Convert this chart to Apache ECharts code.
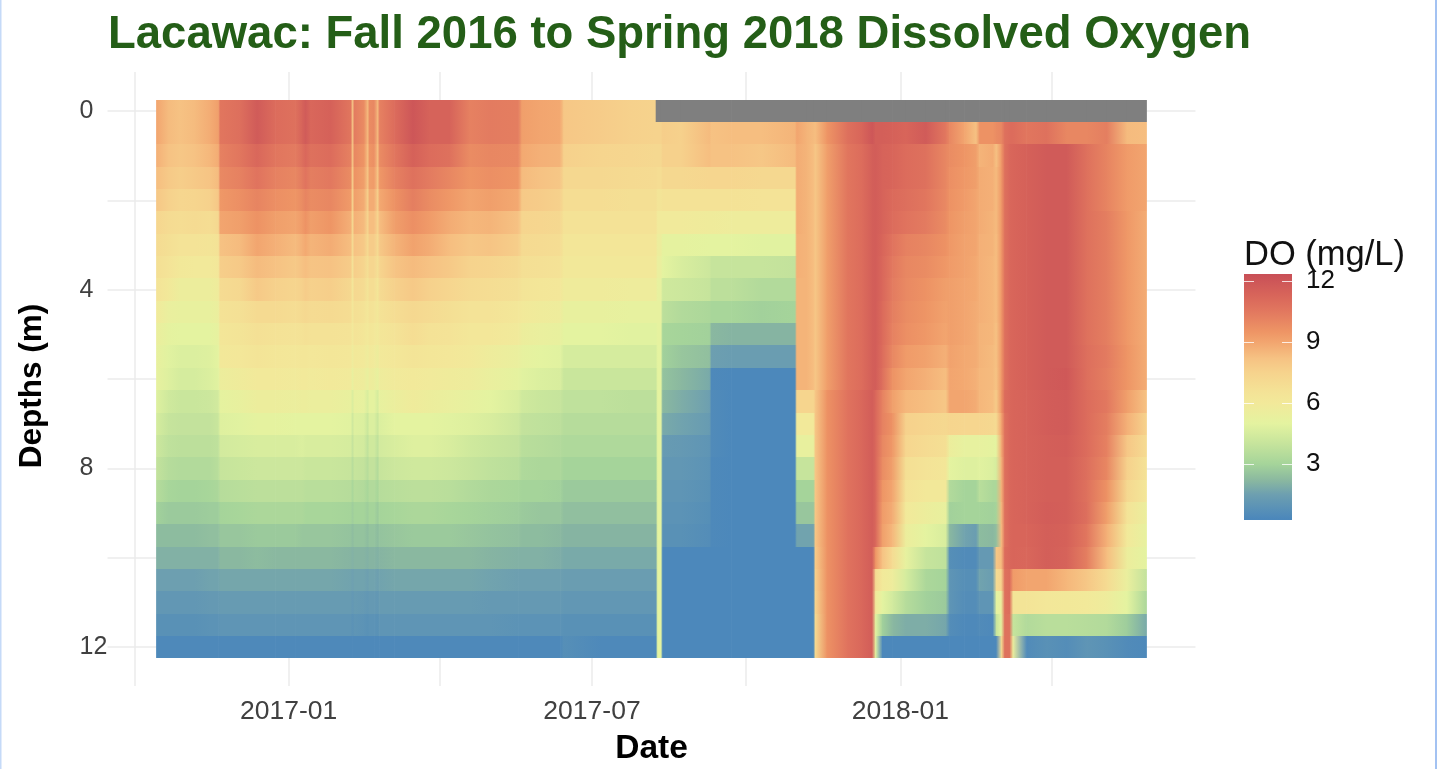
<!DOCTYPE html>
<html><head><meta charset="utf-8">
<script src="https://cdn.jsdelivr.net/npm/echarts@6/dist/echarts.min.js"></script>
<style>html,body{margin:0;padding:0;background:#fff}#c{width:1440px;height:769px}</style>
</head><body><div id="c"></div>
<script>
const dates = ['2016-10-14','2016-10-21','2016-10-28','2016-11-06','2016-11-15','2016-11-20',
'2016-11-21','2016-12-03','2016-12-13','2016-12-24','2017-01-05','2017-01-09','2017-01-11','2017-01-14','2017-01-26','2017-02-07',
'2017-02-08','2017-02-09','2017-02-15','2017-02-17','2017-02-18','2017-02-21','2017-02-23','2017-02-24','2017-03-05','2017-03-16',
'2017-03-26','2017-04-07','2017-04-19','2017-05-01','2017-05-18','2017-05-20','2017-05-31','2017-06-12','2017-06-14','2017-07-06','2017-07-24','2017-08-08',
'2017-08-09','2017-08-11','2017-08-12','2017-08-23','2017-09-09','2017-09-10','2017-09-22','2017-10-10','2017-10-30','2017-10-31',
'2017-11-06','2017-11-10','2017-11-11','2017-11-18','2017-11-30','2017-12-09','2017-12-15','2017-12-17',
'2017-12-21','2017-12-27','2018-01-04','2018-01-16','2018-01-28','2018-01-30','2018-02-08','2018-02-15','2018-02-17','2018-02-25','2018-02-27','2018-03-02','2018-03-04','2018-03-07','2018-03-09',
'2018-03-17','2018-03-29','2018-04-10','2018-04-22','2018-05-04','2018-05-16','2018-05-28'];
const n = null;
const d00 = [9.0,8.4,8.2,8.4,8.8,9.2,10.6,10.9,11.8,11.0,10.8,11.4,11.8,11.2,11.5,10.6,8.0,10.4,9.8,8.4,9.8,10,8.4,10.2,11,12.0,11.4,11.4,10.2,10.4,10.3,9.2,9.0,8.9,8.0,7.8,7.6,7.5, n,n,n,n,n,n,n,n,n,n, n,n,n,n,n,n,n,n, n,n,n,n,n,n,n,n,n,n,n,n,n,n,n, n,n,n,n,n,n,n];
const d05 = [9.0,8.4,8.2,8.4,8.8,9.2,10.6,10.9,11.8,11.0,10.8,11.4,11.8,11.2,11.5,10.6,8.0,10.4,9.8,8.4,9.8,10,8.4,10.2,11,12.0,11.4,11.4,10.2,10.4,10.3,9.2,9.0,8.9,8.0,7.8,7.6,7.5, 7.5,7.5,7.7,7.6,8.4,8.2,8.3,8.3,8.6,9.0, 8.6,8.4,8.3,9.5,10.8,11.3,12,11.6, 11.6,11.5,11.3,11.8,10.5,10,9,8.2,9.6,9.6,9.8,10,10.8,11,11, 10.6,10.8,10,10,10.3,8.4,8.3];
const d10 = [8.7,8.2,8.0,8.2,8.5,8.8,10.2,10.6,11.2,10.6,10.4,10.9,11.2,10.8,11,10.2,7.9,10,9.5,8.2,9.5,9.7,8.2,9.8,10.6,11.5,11.0,10.8,9.8,10.0,9.9,8.9,8.7,8.6,7.6,7.4,7.3,7.2, 7.2,7.2,7.6,7.6,8.3,8.2,8.2,8.0,8.4,8.8, 8.6,8.3,8.0,9.2,10.6,11.0,11.6,11.7, 11.4,11.3,11,10.8,10,9.8,9.5,9.2,8.6,8.8,8.2,9.4,10.8,11.2,11.3, 11.5,11.8,11.8,10.8,10.1,9.3,9];
const d15 = [8.3,7.9,7.7,7.9,8.1,8.4,9.9,10.2,10.7,10.2,10.0,10.4,10.7,10.3,10.5,9.8,7.6,9.6,9.2,8.0,9.2,9.3,8.0,9.4,10.2,10.8,10.4,10.0,9.5,9.7,9.5,8.4,8.2,8.0,7.2,7.2,7.1,7.0, 6.9,6.9,7.2,7.2,7.3,7.3,7.3,7.2,7.2,8.8, 8.6,8.3,8.0,9.2,10.6,11.0,11.6,11.7, 11.4,11.3,11,10.8,10.0,9.7,9.4,9.2,8.8,8.7,8.4,9.4,10.8,11.2,11.3, 11.5,11.8,11.8,10.8,10.1,9.3,9];
const d20 = [8.0,7.6,7.3,7.4,7.6,8.0,9.4,9.7,10.1,9.7,9.5,9.8,10.1,9.8,10,9.3,7.3,9.2,8.8,7.6,8.8,8.8,7.6,8.9,9.6,10.3,9.8,9.4,9.0,9.2,8.9,7.9,7.8,7.6,6.9,6.9,6.8,6.8, 6.4,6.4,6.6,6.6,6.6,6.6,6.6,6.5,6.5,8.8, 8.6,8.3,8.0,9.2,10.6,11.0,11.6,11.7, 11.4,11.1,10.9,10.6,9.9,9.6,9.3,9.0,8.8,8.7,8.4,9.4,10.8,11.2,11.3, 11.5,11.8,11.8,10.8,10.1,9.3,9];
const d25 = [7.3,7.0,6.9,7.0,6.9,7.2,9.0,9.2,9.6,9.2,9.0,9.3,9.6,9.2,9.5,8.7,7.0,8.7,8.4,7.3,8.3,8.3,7.3,8.3,9.2,9.7,9.3,8.8,8.5,8.6,8.2,7.4,7.3,7.2,6.6,6.6,6.6,6.6, 5.9,5.9,5.9,5.9,5.8,5.8,5.7,5.7,5.7,8.8, 8.6,8.3,8.0,9.2,10.6,11.0,11.6,11.7, 11.4,11,10.7,10.4,9.8,9.5,9.2,9.0,8.8,8.6,8.4,9.4,10.8,11.2,11.3, 11.5,11.8,11.8,10.8,10.3,9.4,8.8];
const d30 = [7.0,6.8,6.5,6.5,6.4,6.6,8.2,8.4,9.0,8.7,8.4,8.7,8.9,8.6,8.8,8.3,6.9,8.2,7.9,7.1,7.8,7.8,7.0,7.9,8.6,9.1,8.8,8.3,8.0,8.1,7.7,7.1,7,6.9,6.3,6.3,6.3,6.3, 5.6,5.6,5.1,5.1,5.0,5.0,5.0,4.9,4.9,8.7, 8.6,8.3,8.0,9.2,10.6,11.0,11.6,11.7, 11.3,10.7,10.2,10,9.6,9.4,9.1,9.0,8.7,8.6,8.3,9.4,10.8,11.2,11.3, 11.5,11.8,11.8,10.8,10.3,9.4,8.8];
const d35 = [6.8,6.5,6.1,6.0,6.0,6.2,7.7,7.9,8.4,8.2,7.9,8.2,8.3,8.1,8.2,7.8,6.5,7.7,7.4,6.8,7.3,7.3,6.7,7.4,8.1,8.4,8.2,7.9,7.5,7.4,7.1,6.8,6.7,6.6,6.1,6.1,6.1,6.1, 5.4,5.4,5.0,4.6,4.2,4.0,4.0,4.0,3.9,8.7, 8.6,8.3,8.0,9.2,10.6,11.0,11.6,11.7, 11.2,10.5,10,9.8,9.4,9.3,9.1,8.9,8.7,8.5,8.3,9.4,10.8,11.2,11.3, 11.5,11.8,11.8,10.8,10.3,9.4,8.8];
const d40 = [6.5,6.1,5.6,5.6,5.6,5.8,7.0,7.2,7.9,7.6,7.4,7.6,7.8,7.6,7.7,7.2,6.2,7.2,7.0,6.4,6.9,6.9,6.3,7.0,7.6,7.9,7.6,7.3,7.0,6.9,6.7,6.4,6.3,6.2,5.8,5.8,5.7,5.7, 5.2,5.2,4.3,4.2,4.0,3.7,3.7,3.4,3.4,8.6, 8.6,8.3,8.0,9.2,10.6,11.0,11.6,11.7, 11.2,10.4,9.9,9.6,9.2,9.2,9,8.9,8.7,8.5,8.3,9.4,10.8,11.2,11.3, 11.5,11.8,11.8,10.8,10.3,9.4,8.8];
const d45 = [5.9,5.4,5.3,5.3,5.3,5.5,6.6,6.7,7.1,7.1,6.9,7.1,7.2,7.0,7.1,6.9,6.2,6.8,6.6,6.2,6.6,6.5,6.1,6.6,6.9,7.2,7.0,6.8,6.5,6.5,6.2,6.0,5.8,5.7,5.3,5.3,5.2,5.2, 5.2,5.2,3.7,3.4,3.2,3.1,3.1,2.9,3.0,8.6, 8.6,8.3,8.0,9.2,10.6,11.0,11.6,11.7, 11.1,10.3,9.8,9.5,9.1,9.2,9,8.8,8.7,8.5,8.3,9.4,10.8,11.2,11.3, 11.5,11.8,11.8,10.8,10.3,9.4,8.8];
const d50 = [5.5,5.1,5.0,5.0,5.0,5.2,6.3,6.4,6.7,6.6,6.5,6.6,6.7,6.6,6.6,6.5,6.0,6.5,6.3,6.0,6.3,6.2,5.9,6.3,6.5,6.9,6.6,6.5,6.2,6.2,5.9,5.6,5.4,5.3,5.0,5.0,4.9,4.9, 5.1,5.1,3.1,3.0,2.9,2.2,2.1,2.1,2.1,8.6, 8.6,8.3,8.0,9.2,10.6,11.0,11.6,11.7, 11.1,10.2,9.7,9.4,9.0,9.2,9,8.8,8.6,8.5,8.2,9.4,10.8,11.2,11.3, 11.5,11.8,11.8,10.8,10.3,9.4,8.8];
const d55 = [5.3,4.9,4.7,4.7,4.8,5.0,6.1,6.2,6.4,6.3,6.2,6.3,6.3,6.2,6.3,6.2,5.7,6.1,6.0,5.7,6.0,5.9,5.6,6.0,6.2,6.4,6.3,6.2,6.0,5.7,5.4,5.2,5.0,4.9,4.5,4.5,4.5,4.5, 5.0,5.0,2.9,2.6,2.4,1.5,1.4,1.4,1.4,8.6, 8.6,8.3,8.0,9.2,10.6,11.0,11.6,11.7, 11,10,9.3,9.1,8.7,9.1,8.9,8.8,8.6,8.4,8.2,9.4,10.8,11.2,11.3, 11.5,11.8,11.8,10.9,10.4,9.5,8.8];
const d60 = [5.2,4.8,4.5,4.5,4.7,4.9,5.6,5.8,6.0,6.0,5.9,6.0,6.0,5.9,6.0,5.9,5.3,5.8,5.7,5.3,5.7,5.6,5.2,5.7,5.9,6.0,5.9,5.8,5.7,5.4,5.1,4.9,4.7,4.6,4.1,4.1,4.1,4.1, 5.0,5.0,2.5,2.2,1.8,0.4,0.35,0.35,0.35,8.6, 8.6,8.3,8.0,9.2,10.6,11.0,11.6,11.7, 10.9,9.6,9,8.7,8.3,9,8.9,8.7,8.5,8.4,8.1,9.4,10.8,11.2,11.3, 11.5,11.8,11.9,10.9,10.3,9.5,8.8];
const d65 = [4.8,4.3,4.1,4.1,4.2,4.4,5.1,5.3,5.6,5.6,5.5,5.6,5.6,5.5,5.5,5.3,4.6,5.3,5.2,4.6,5.1,5.1,4.5,5.2,5.5,5.8,5.6,5.4,5.2,5.0,4.6,4.3,4.1,4.0,3.8,3.8,3.7,3.7, 5,5,2.2,1.9,1.5,0.5,0.35,0.35,0.35,7.4, 7.4,7.4,8.0,9.6,10.7,11.2,11.7,11.2, 10.2,9.2,8.5,8.3,8.0,9,9,8.8,8.5,8.3,7.8,9.5,11,11.2,11.3, 11.4,11.7,11.8,11,10.5,9.2,8.2];
const d70 = [4.5,4.0,3.9,3.9,3.9,4.1,4.8,4.9,5.1,5.1,5.0,5.0,5.0,5.0,5,4.9,4.2,4.8,4.7,4.1,4.7,4.7,4.1,4.7,5.0,5.0,5.0,4.9,4.8,4.6,4.2,3.9,3.8,3.7,3.5,3.5,3.5,3.5, 5,5,1.8,1.6,1.3,0.5,0.35,0.35,0.35,6.0, 6,6,8.0,9.6,10.7,11.2,11.7,11.2, 10.2,9.6,7.6,7.4,7.2,7.4,7.3,7.3,7.3,7.2,7,9,10.8,11.2,11.3, 11.4,11.7,11.8,11,10.3,8.7,7.5];
const d75 = [4.2,3.8,3.7,3.7,3.7,3.8,4.4,4.5,4.6,4.6,4.6,4.7,4.6,4.6,4.6,4.5,3.9,4.5,4.4,3.8,4.3,4.3,3.8,4.4,4.6,4.8,4.8,4.6,4.3,4.1,3.9,3.6,3.5,3.4,3.3,3.3,3.3,3.3, 5,5,1.3,1.2,1.0,0.5,0.35,0.35,0.35,5.3, 5.3,5.3,8.0,9.6,10.7,11.2,11.7,11.2, 10,9.4,7.3,7,6.8,5.6,5.2,5.2,5.2,5.1,5,8.8,10.8,11.2,11.3, 11.4,11.6,11.7,11,10.2,8,7];
const d80 = [3.9,3.5,3.4,3.4,3.4,3.6,4.0,4.1,4.2,4.2,4.2,4.2,4.1,4.1,4.1,4,3.5,4.0,3.9,3.5,3.9,3.9,3.4,4.0,4.2,4.3,4.3,4.2,4.0,3.8,3.6,3.3,3.2,3.2,3.0,3.0,3.0,3.0, 5,5,1.1,1.1,0.9,0.4,0.35,0.35,0.35,4.0, 4,4,8.0,9.6,10.7,11.2,11.7,11.2, 9.8,9.2,6.8,6.5,6.3,5,4.8,4.8,4.9,4.7,4.5,8.6,10.8,11.2,11.3, 11.4,11.6,11.6,10.9,10,7.6,6.6];
const d85 = [3.5,3.1,3.0,3.0,3.1,3.2,3.5,3.6,3.7,3.7,3.7,3.7,3.6,3.6,3.6,3.5,3.1,3.5,3.4,3.1,3.4,3.4,3.1,3.5,3.6,3.7,3.7,3.6,3.4,3.2,3.1,3.0,3.0,2.9,2.7,2.7,2.7,2.7, 5,5,1.0,1.0,0.8,0.4,0.35,0.35,0.35,3.0, 3,3,8.0,9.6,10.7,11.2,11.7,11.2, 9.5,9,6.5,6.1,6.1,3.4,3,3,3.6,3.2,3.2,8.6,10.8,11.2,11.3, 11.4,11.6,11.6,10.8,9.6,7.2,6.2];
const d90 = [2.9,2.7,2.7,2.7,2.8,2.8,3.0,3.1,3.2,3.2,3.2,3.2,3.1,3.1,3.1,3,2.8,3,3,2.8,3,3,2.7,3,3.1,3.2,3.2,3.1,3.0,2.9,2.8,2.7,2.6,2.6,2.4,2.4,2.4,2.4, 5,5,0.9,0.9,0.7,0.4,0.35,0.35,0.35,2.6, 2.6,2.6,8.0,9.6,10.7,11.2,11.7,11.2, 9.3,8.8,6,5.6,5.3,2.9,3,3,3,2.9,3,8.4,10.8,11.2,11.3, 11.4,11.7,11.6,10.9,9.2,6.5,5.5];
const d95 = [2.3,2.3,2.3,2.3,2.4,2.4,2.6,2.6,2.7,2.7,2.7,2.6,2.6,2.6,2.6,2.5,2.3,2.5,2.5,2.3,2.5,2.5,2.3,2.5,2.6,2.7,2.7,2.7,2.6,2.5,2.4,2.3,2.3,2.2,2.1,2.1,2.1,2.1, 5,5,0.8,0.8,0.6,0.4,0.35,0.35,0.35,1.6, 1.6,1.6,8.0,9.6,10.7,11.2,11.7,11.2, 9.2,8.5,5.6,5,4.6,2.2,1.6,1.4,2.3,2.2,2.4,8.3,10.8,11.2,11.3, 11.3,11.6,11.5,10.6,8.7,6,5.2];
const d100 = [2.0,2,2,2,2,2,2.2,2.2,2.3,2.2,2.2,2.2,2.2,2.2,2.2,2.1,2,2.1,2.1,2,2.1,2.1,2,2.1,2.2,2.2,2.2,2.2,2.2,2.1,2,2,2,1.9,1.8,1.8,1.8,1.8, 5,5,0.35,0.35,0.35,0.35,0.35,0.35,0.35,0.35, 0.35,0.35,7.8,9.6,10.7,11.2,11.7,9.5, 8.2,7,5.2,4,3.8,0.7,0.5,0.5,1.2,1.2,8,8.4,11,11.2,11.3, 11.2,11.6,11.4,10.3,8.3,5.6,5];
const d105 = [1.5,1.5,1.5,1.5,1.6,1.6,1.7,1.7,1.7,1.7,1.7,1.7,1.7,1.7,1.7,1.6,1.5,1.6,1.6,1.5,1.6,1.6,1.5,1.6,1.7,1.7,1.7,1.7,1.7,1.6,1.5,1.5,1.5,1.5,1.4,1.4,1.4,1.4, 5,5,0.35,0.35,0.35,0.35,0.35,0.35,0.35,0.35, 0.35,0.35,7.6,9.6,10.7,11.2,11.7,7, 6,5.7,4.5,3.2,3,1,0.7,0.7,1.6,1.4,7,7.5,10.8,11,9.3, 9,9,8.5,8,7,5.4,3.9];
const d110 = [1.1,1.1,1.1,1.1,1.2,1.2,1.3,1.3,1.3,1.3,1.3,1.3,1.3,1.3,1.3,1.3,1.1,1.3,1.2,1.1,1.2,1.2,1.1,1.3,1.3,1.3,1.3,1.3,1.3,1.2,1.2,1.2,1.2,1.2,1.1,1.1,1.1,1.1, 5,5,0.35,0.35,0.35,0.35,0.35,0.35,0.35,0.35, 0.35,0.35,7.4,9.6,10.7,11.2,11.7,6, 5,4.4,3.5,2.9,2.7,1,0.6,0.6,1,1,5,5.5,10.8,11,6.4, 6.4,6.2,6.1,6,5.7,5,3.2];
const d115 = [0.8,0.8,0.8,0.8,0.9,0.9,1,1,1,1,1,1,1,1,1,1,0.8,1,0.9,0.8,0.9,0.9,0.8,1,1,1,1,1,1,1,0.9,0.9,0.9,0.9,0.8,0.8,0.8,0.8, 5,5,0.35,0.35,0.35,0.35,0.35,0.35,0.35,0.35, 0.35,0.35,7,9.6,10.7,11.2,11.7,5, 2.9,2.2,1.9,1.9,1.7,0.6,0.4,0.4,0.5,0.4,4,5,10.8,10.8,4, 3.4,3.6,3.6,3.5,3.4,2.8,1.8];
const d120 = [0.4,0.4,0.4,0.4,0.4,0.4,0.4,0.4,0.4,0.4,0.4,0.4,0.4,0.4,0.4,0.4,0.4,0.4,0.4,0.4,0.4,0.4,0.4,0.4,0.4,0.4,0.4,0.4,0.4,0.4,0.4,0.4,0.4,0.4,0.7,0.4,0.4,0.4, 5,5,0.35,0.35,0.35,0.35,0.35,0.35,0.35,0.35, 0.35,0.35,7,9.6,10.7,11.2,11.7,5, 0.35,0.35,0.35,0.35,0.35,0.35,0.35,0.35,0.35,0.35,0.35,6.8,10.8,10.8,5.5, 0.5,0.8,0.6,1,0.8,0.5,0.4];
const depths = [0,0.5,1,1.5,2,2.5,3,3.5,4,4.5,5,5.5,6,6.5,7,7.5,8,8.5,9,9.5,10,10.5,11,11.5,12];
const rows = [d00,d05,d10,d15,d20,d25,d30,d35,d40,d45,d50,d55,d60,d65,d70,d75,d80,d85,d90,d95,d100,d105,d110,d115,d120];
const colorValues = [0.3,1.5,2.2,3,4,5,6,6.6,7.5,8.2,9,9.5,10.5,11.3,12.35];
const colorHexes = ['#4b87bb','#6d9fb0','#8ab8a0','#a5d49a','#c6e49c','#e4f3a0','#f2e99a','#f4e296','#f6d38d','#f6c283','#f2a56f','#ee9565','#e2785f','#d8655a','#c84f57'];
const naColor = '#7f7f7f';
const majorDates = ['2017-01-01','2017-07-01','2018-01-01'];
const minorDates = ['2016-10-01','2017-04-01','2017-10-01','2018-04-01'];
const depthLabels = [0,4,8,12];
const depthGrid = [0,2,4,6,8,10,12];
const legendTicks = [3,6,9,12];
const legendRange = [0.25,12.35];

const ms = s => new Date(s + 'T00:00:00Z').getTime();
function colorOf(v){
  if (v === null) return naColor;
  if (v <= colorValues[0]) return colorHexes[0];
  for (let i = 1; i < colorValues.length; i++) {
    if (v <= colorValues[i]) {
      const t = (v - colorValues[i-1]) / (colorValues[i] - colorValues[i-1]);
      return echarts.color.lerp(t, [colorHexes[i-1], colorHexes[i]]);
    }
  }
  return colorHexes[colorHexes.length-1];
}
const cells = [];
rows.forEach((r, ri) => {
  if (r.length !== dates.length) throw new Error('row ' + ri + ' has ' + r.length);
  for (let i = 0; i < r.length - 1; i++) {
    cells.push([ms(dates[i]), ms(dates[i+1]), depths[ri], r[i], r[i+1]]);
  }
});
const chart = echarts.init(document.getElementById('c'), null, {renderer:'canvas'});
const sans = '"Liberation Sans", Arial, sans-serif';
chart.setOption({
  animation:false,
  backgroundColor:'#fff',
  textStyle:{fontFamily:sans},
  title:[
    {text:'Lacawac: Fall 2016 to Spring 2018 Dissolved Oxygen', left:103, top:7,
     textStyle:{fontFamily:sans,fontSize:45.5,fontWeight:'bold',color:'#245e17'}},
    {text:'DO (mg/L)', left:1239, top:233, textStyle:{fontFamily:sans,fontSize:34.5,fontWeight:'normal',color:'#111'}}
  ],
  grid:[
    {left:107.5,top:72,width:1088,height:614,outerBoundsMode:'none'},
    {left:1244,top:274,width:48,height:246,outerBoundsMode:'none'}
  ],
  xAxis:[
    {type:'value',gridIndex:0,min:ms('2016-09-15'),max:ms('2018-06-26'),
     name:'Date',nameLocation:'middle',nameGap:46,
     nameTextStyle:{fontFamily:sans,fontSize:33.5,fontWeight:'bold',color:'#000'},
     axisLine:{show:false},
     axisTick:{show:false,customValues:majorDates.concat(minorDates).map(ms)},
     axisLabel:{show:true,customValues:majorDates.map(ms),fontSize:26.5,color:'#404040',margin:12,hideOverlap:false,
       formatter:v=>{const d=new Date(v);return d.getUTCFullYear()+'-'+String(d.getUTCMonth()+1).padStart(2,'0');}},
     splitLine:{show:true,lineStyle:{color:'#ebebeb',width:1.5}}},
    {type:'value',gridIndex:1,min:0,max:1,show:false}
  ],
  yAxis:[
    {type:'value',gridIndex:0,inverse:true,min:-0.873,max:12.873,
     name:'Depths (m)',nameLocation:'middle',nameGap:59,
     nameTextStyle:{fontFamily:sans,fontSize:31.5,fontWeight:'bold',color:'#000',padding:[0,14,0,0]},
     axisLine:{show:false},
     axisTick:{show:false,customValues:depthGrid},
     axisLabel:{customValues:depthLabels,fontSize:25,color:'#404040',margin:28,align:'left',padding:[3,0,0,0],showMinLabel:true,showMaxLabel:true},
     splitLine:{show:true,lineStyle:{color:'#ebebeb',width:1.5}}},
    {type:'value',gridIndex:1,position:'right',min:legendRange[0],max:legendRange[1],
     axisLine:{show:false},splitLine:{show:false},axisTick:{show:false},
     axisLabel:{customValues:legendTicks,fontSize:26,color:'#111',margin:14}}
  ],
  series:[
    {type:'custom',xAxisIndex:0,yAxisIndex:0,data:cells,progressive:0,silent:true,clip:true,z:3,
     encode:{x:[0,1],y:2},
     renderItem:(p,api)=>{
       const x0=api.value(0),x1=api.value(1),d=api.value(2);
       const a=cells[p.dataIndex][3],b=cells[p.dataIndex][4];
       const tl=api.coord([x0,d-0.25]),br=api.coord([x1,d+0.25]);
       const top=Math.round(tl[1]),bot=Math.round(br[1]);
       const w=br[0]-tl[0]+(x1===ms(dates[dates.length-1])?0:0.7);
       const fill=(a===null||b===null)?naColor:new echarts.graphic.LinearGradient(0,0,1,0,[{offset:0,color:colorOf(a)},{offset:1,color:colorOf(b)}]);
       return {type:'rect',shape:{x:tl[0],y:top,width:w,height:bot-top},style:{fill:fill}};
     }},
    {type:'custom',xAxisIndex:1,yAxisIndex:1,data:[[0,1,legendRange[0],legendRange[1]]],silent:true,z:1,
     encode:{x:[0,1],y:[2,3]},
     renderItem:(p,api)=>{
       const a=api.coord([api.value(0),api.value(3)]),b=api.coord([api.value(1),api.value(2)]);
       const span=legendRange[1]-legendRange[0];
       const stops=colorValues.map((v,i)=>({offset:Math.max(0,Math.min(1,(v-legendRange[0])/span)),color:colorHexes[i]}));
       return {type:'rect',shape:{x:a[0],y:a[1],width:b[0]-a[0],height:b[1]-a[1]},
         style:{fill:new echarts.graphic.LinearGradient(0,1,0,0,stops)}};
     }},
    {type:'custom',xAxisIndex:1,yAxisIndex:1,data:legendTicks.map(v=>[0,1,v]),silent:true,z:2,
     encode:{x:[0,1],y:2},
     renderItem:(p,api)=>{
       const a=api.coord([api.value(0),api.value(2)]),b=api.coord([api.value(1),api.value(2)]);
       const y=Math.round(a[1])+0.5,st={stroke:'rgba(255,255,255,0.8)',lineWidth:1};
       return {type:'group',children:[
         {type:'line',shape:{x1:a[0],y1:y,x2:a[0]+10,y2:y},style:st},
         {type:'line',shape:{x1:b[0]-10,y1:y,x2:b[0],y2:y},style:st}
       ]};
     }}
  ],
  graphic:[
    {type:'rect',left:0,top:0,shape:{width:1.5,height:769},style:{fill:'#c5daf8'},silent:true},
    {type:'rect',left:1435,top:0,shape:{width:2,height:769},style:{fill:'#a3c2f2'},silent:true}
  ]
});
</script></body></html>
